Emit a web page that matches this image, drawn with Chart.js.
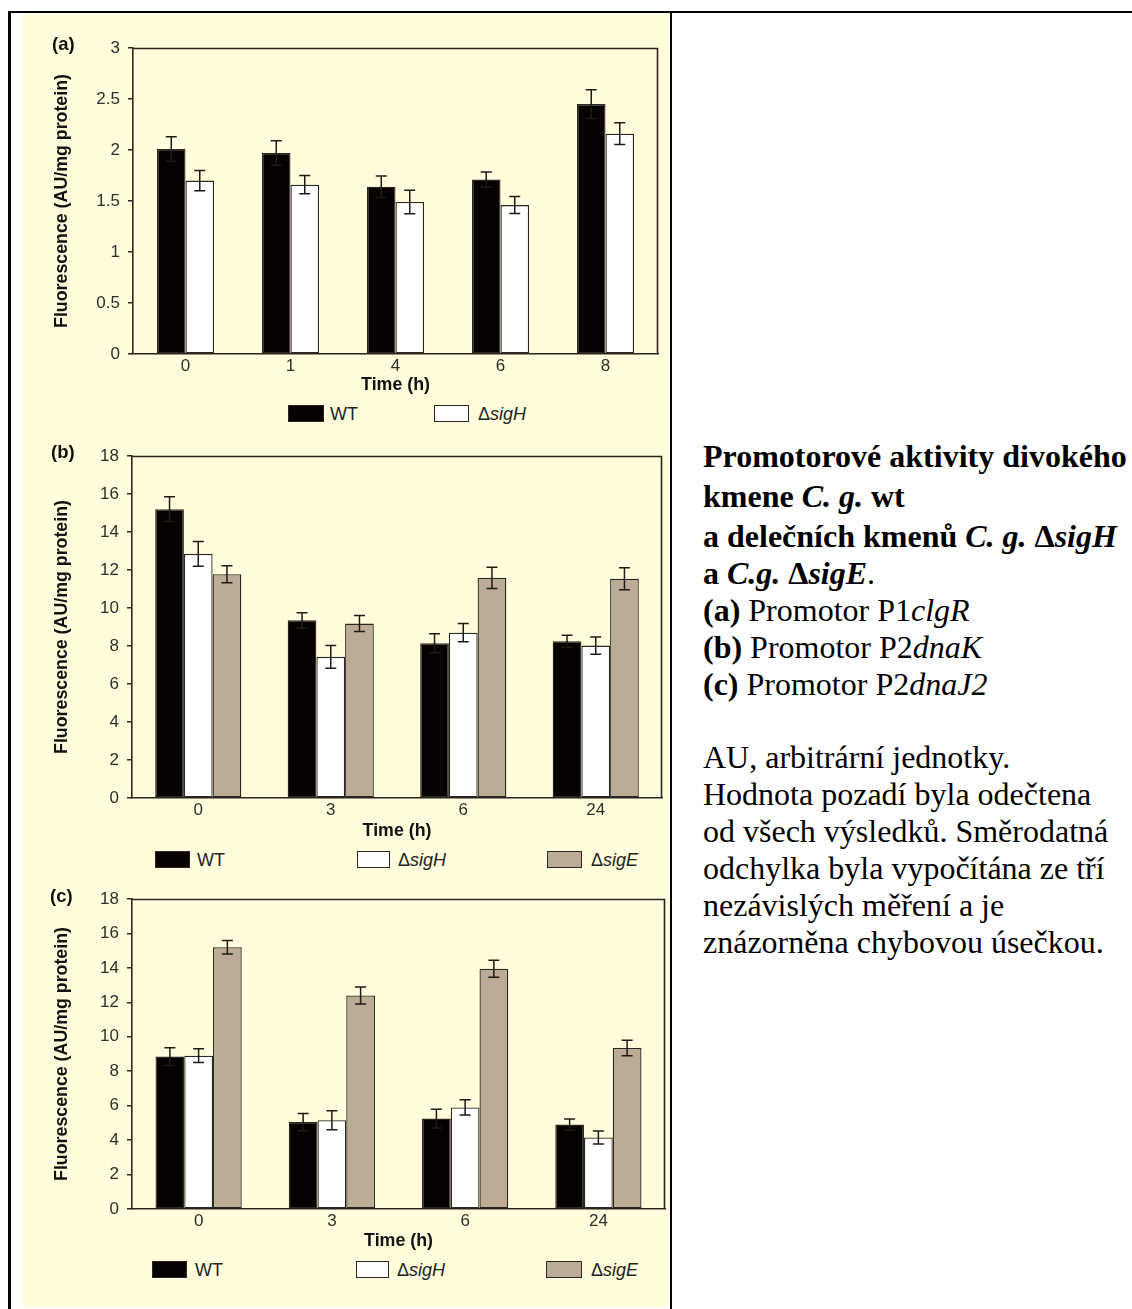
<!DOCTYPE html>
<html>
<head>
<meta charset="utf-8">
<script src="https://cdn.jsdelivr.net/npm/chart.js@4.4.1/dist/chart.umd.min.js"></script>
<style>
  html, body { margin: 0; padding: 0; background: #fff; }
  body { width: 1132px; height: 1309px; position: relative; overflow: hidden;
         font-family: 'Liberation Sans', Arial, sans-serif; }
  .rule { position: absolute; background: #000; }
  .panel-bg { position: absolute; left: 23px; top: 14px; width: 647px; height: 1293px; background: #fffddc; }
  canvas.chart { position: absolute; left: 23px; }
  .plabel { position: absolute; font: bold 18.5px 'Liberation Sans', Arial, sans-serif; color: #111; line-height: 18px; }
  .legbox { position: absolute; height: 17px; box-sizing: border-box; border: 1px solid #2b2620; }
  .legtxt { position: absolute; font: 18px 'Liberation Sans', Arial, sans-serif; color: #222; line-height: 18px; white-space: nowrap; }
  .cap { position: absolute; left: 703px; font-family: 'Liberation Serif', 'Times New Roman', serif;
         font-size: 32px; line-height: 32px; color: #000; white-space: nowrap; }
</style>
</head>
<body>
<div class="panel-bg"></div>
<div class="rule" style="left:8px;top:11px;width:1124px;height:2px;"></div>
<div class="rule" style="left:8px;top:11px;width:3px;height:1298px;"></div>
<div class="rule" style="left:670px;top:11px;width:2px;height:1298px;"></div>

<canvas id="chartA" class="chart" width="647" height="384" style="top:14px;"></canvas>
<canvas id="chartB" class="chart" width="647" height="412" style="top:430px;"></canvas>
<canvas id="chartC" class="chart" width="647" height="373" style="top:880px;"></canvas>

<div class="plabel" style="left:52px;top:35px;">(a)</div>
<div class="plabel" style="left:51px;top:443px;">(b)</div>
<div class="plabel" style="left:50px;top:887px;">(c)</div>

<div id="legends"></div>

<div class="cap" style="top:440px;"><b>Promotorové aktivity divokého</b></div>
<div class="cap" style="top:480px;"><b>kmene <i>C. g.</i> wt</b></div>
<div class="cap" style="top:520px;"><b>a delečních kmenů <i>C. g.</i> Δ<i>sigH</i></b></div>
<div class="cap" style="top:557px;"><b>a <i>C.g.</i> Δ<i>sigE</i></b>.</div>
<div class="cap" style="top:594px;"><b>(a)</b> Promotor P1<i>clgR</i></div>
<div class="cap" style="top:631px;"><b>(b)</b> Promotor P2<i>dnaK</i></div>
<div class="cap" style="top:668px;"><b>(c)</b> Promotor P2<i>dnaJ2</i></div>
<div class="cap" style="top:741px;">AU, arbitrární jednotky.</div>
<div class="cap" style="top:778px;">Hodnota pozadí byla odečtena</div>
<div class="cap" style="top:815px;">od všech výsledků. Směrodatná</div>
<div class="cap" style="top:852px;">odchylka byla vypočítána ze tří</div>
<div class="cap" style="top:889px;">nezávislých měření a je</div>
<div class="cap" style="top:926px;">znázorněna chybovou úsečkou.</div>

<script>
// ---- Panel (a): promoter P1clgR ----
const timesA = ['0', '1', '4', '6', '8'];
const wtA = [2.01, 1.97, 1.64, 1.71, 2.45];
const wtAErr = [0.12, 0.12, 0.105, 0.075, 0.14];
const sigHA = [1.70, 1.66, 1.49, 1.46, 2.16];
const sigHAErr = [0.10, 0.09, 0.115, 0.083, 0.107];
const yTicksA = ['0', '0.5', '1', '1.5', '2', '2.5', '3'];

// ---- Panel (b): promoter P2dnaK ----
const timesB = ['0', '3', '6', '24'];
const wtB = [15.2, 9.35, 8.15, 8.25];
const wtBErr = [0.65, 0.4, 0.5, 0.32];
const sigHB = [12.85, 7.43, 8.7, 8.02];
const sigHBErr = [0.65, 0.6, 0.48, 0.46];
const sigEB = [11.78, 9.18, 11.59, 11.54];
const sigEBErr = [0.45, 0.42, 0.56, 0.58];

// ---- Panel (c): promoter P2dnaJ2 ----
const timesC = ['0', '3', '6', '24'];
const wtC = [8.85, 5.05, 5.25, 4.9];
const wtCErr = [0.52, 0.5, 0.54, 0.33];
const sigHC = [8.9, 5.15, 5.9, 4.15];
const sigHCErr = [0.4, 0.55, 0.44, 0.38];
const sigEC = [15.2, 12.4, 13.95, 9.35];
const sigECErr = [0.39, 0.49, 0.5, 0.45];

const yTicksBC = ['0', '2', '4', '6', '8', '10', '12', '14', '16', '18'];

const strainNames = ['WT', 'ΔsigH', 'ΔsigE'];
const strainFills = ['#060000', '#ffffff', '#bcab95'];
const edge = '#2b2620';
const sans = "'Liberation Sans', Arial, sans-serif";

// whiskers: mean ± SD for every bar, placed with the chart's own scales
const errorBars = {
  id: 'errorBars',
  afterDatasetsDraw(chart) {
    const ctx = chart.ctx, y = chart.scales.y;
    chart.data.datasets.forEach((ds, i) => {
      const meta = chart.getDatasetMeta(i);
      meta.data.forEach((bar, j) => {
        const v = ds.data[j], e = ds.errors[j];
        const top = y.getPixelForValue(v + e), bot = y.getPixelForValue(v - e);
        ctx.save();
        ctx.strokeStyle = '#1e1a16';
        ctx.lineWidth = 1.5;
        ctx.beginPath();
        ctx.moveTo(bar.x, top); ctx.lineTo(bar.x, bot);
        ctx.moveTo(bar.x - 5.5, top); ctx.lineTo(bar.x + 5.5, top);
        ctx.moveTo(bar.x - 5.5, bot); ctx.lineTo(bar.x + 5.5, bot);
        ctx.stroke();
        ctx.restore();
      });
    });
  }
};

// closes the plot box on the top and right sides
const plotFrame = {
  id: 'plotFrame',
  afterDraw(chart) {
    const ctx = chart.ctx, a = chart.chartArea;
    ctx.save();
    ctx.strokeStyle = edge;
    ctx.lineWidth = 1.6;
    ctx.beginPath();
    ctx.moveTo(a.left, a.top + 0.5);
    ctx.lineTo(a.right - 0.5, a.top + 0.5);
    ctx.lineTo(a.right - 0.5, a.bottom);
    ctx.stroke();
    ctx.restore();
  }
};

function makeDatasets(series, errs) {
  return series.map((s, i) => ({
    label: strainNames[i],
    data: s,
    errors: errs[i],
    backgroundColor: strainFills[i],
    borderColor: edge,
    borderWidth: 1.3,
    borderSkipped: false
  }));
}

function buildChart(id, cats, series, errs, cfg) {
  return new Chart(document.getElementById(id), {
    type: 'bar',
    data: { labels: cats, datasets: makeDatasets(series, errs) },
    options: {
      responsive: false,
      animation: false,
      events: [],
      datasets: { bar: { barPercentage: 1.0, categoryPercentage: cfg.groupFrac } },
      layout: { padding: { left: 0, right: cfg.padRight, top: cfg.padTop, bottom: 0 } },
      plugins: { legend: { display: false }, tooltip: { enabled: false } },
      scales: {
        x: {
          grid: { display: false, drawTicks: false },
          border: { display: true, color: edge, width: 1.6 },
          ticks: { color: '#2e2e2e', font: { family: sans, size: 17 }, padding: 2 },
          title: { display: true, text: 'Time (h)', color: '#111',
                   font: { family: sans, size: 17.8, weight: 'bold', lineHeight: 1.2 },
                   padding: { top: 0, bottom: cfg.xTitlePad } },
          afterFit: (s) => { s.height = 44; }
        },
        y: {
          min: 0, max: cfg.yMax,
          grid: { display: true, drawOnChartArea: false, drawTicks: true, tickLength: 5,
                  color: edge, tickColor: edge, lineWidth: 1.5 },
          border: { display: true, color: edge, width: 1.6 },
          ticks: { stepSize: cfg.step, color: '#2e2e2e', font: { family: sans, size: 17 }, padding: 8,
                   callback: (v, i) => cfg.tickText[i] },
          title: { display: true, text: 'Fluorescence (AU/mg protein)', color: '#111',
                   font: { family: sans, size: 17.8, weight: 'bold', lineHeight: 1.2 },
                   padding: { top: 28, bottom: 0 } },
          afterFit: (s) => { s.width = cfg.yWidth; }
        }
      }
    },
    plugins: [errorBars, plotFrame]
  });
}

buildChart('chartA', timesA, [wtA, sigHA], [wtAErr, sigHAErr],
  { groupFrac: 0.543, padRight: 12, padTop: 34, yWidth: 110, yMax: 3, step: 0.5, xTitlePad: 2, tickText: yTicksA });
buildChart('chartB', timesB, [wtB, sigHB, sigEB], [wtBErr, sigHBErr, sigEBErr],
  { groupFrac: 0.65, padRight: 8, padTop: 26, yWidth: 109, yMax: 18, step: 2, xTitlePad: 0, tickText: yTicksBC });
buildChart('chartC', timesC, [wtC, sigHC, sigEC], [wtCErr, sigHCErr, sigECErr],
  { groupFrac: 0.647, padRight: 5, padTop: 19, yWidth: 109, yMax: 18, step: 2, xTitlePad: 1, tickText: yTicksBC });

// legend rows under each panel: top of the keys, then [key left, key width, text left] per strain
const legendRows = [
  { top: 405, items: [[288, 36, 330], [434, 35, 478]] },
  { top: 851, items: [[155, 35, 197], [357, 33, 398], [547, 35, 591]] },
  { top: 1261, items: [[152, 35, 195], [356, 33, 397], [546, 36, 591]] }
];
const legHost = document.getElementById('legends');
legendRows.forEach(row => {
  row.items.forEach((it, i) => {
    const box = document.createElement('div');
    box.className = 'legbox';
    box.style.left = it[0] + 'px';
    box.style.top = row.top + 'px';
    box.style.width = it[1] + 'px';
    box.style.background = strainFills[i];
    legHost.appendChild(box);
    const txt = document.createElement('div');
    txt.className = 'legtxt';
    txt.style.left = it[2] + 'px';
    txt.style.top = (row.top - 0.5) + 'px';
    const name = strainNames[i];
    if (name.startsWith('Δ')) {
      txt.textContent = 'Δ';
      const it2 = document.createElement('i');
      it2.textContent = name.slice(1);
      txt.appendChild(it2);
    } else {
      txt.textContent = name;
    }
    legHost.appendChild(txt);
  });
});
</script>
</body>
</html>
